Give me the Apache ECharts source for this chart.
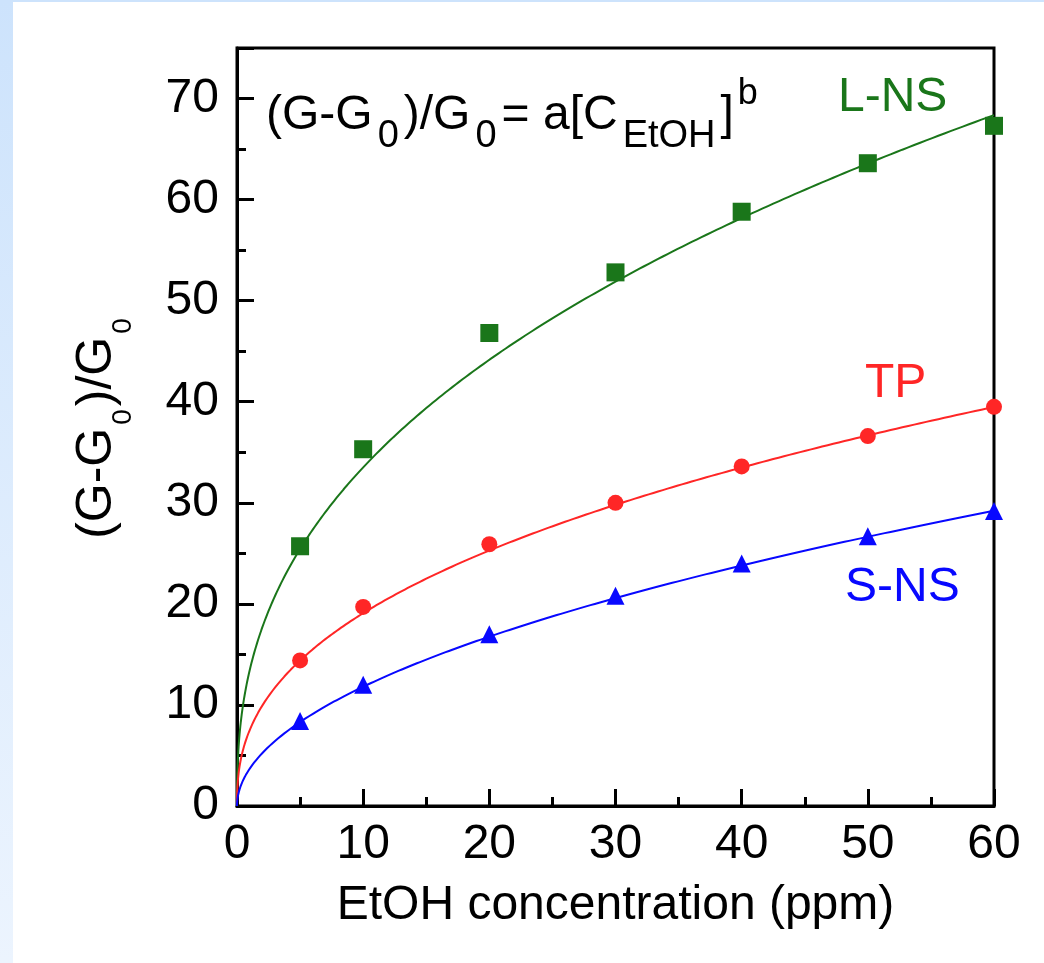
<!DOCTYPE html>
<html>
<head>
<meta charset="utf-8">
<script src="https://cdn.jsdelivr.net/npm/echarts@6/dist/echarts.min.js"></script>
<style>
  html, body { margin: 0; padding: 0; background: #ffffff; }
  #chart { width: 1044px; height: 963px; }
</style>
</head>
<body>
<div id="chart"></div>
<script>
// EtOH concentrations (ppm) at which the response was measured
const concentrations = [5, 10, 20, 30, 40, 50, 60];

// Relative conductance change (G-G0)/G0 for each sensor
const responseLNS = [25.7, 35.3, 46.8, 52.8, 58.8, 63.6, 67.3];
const responseTP  = [14.4, 19.7, 25.9, 30.0, 33.6, 36.6, 39.5];
const responseSNS = [8.4, 12.0, 17.0, 20.8, 24.0, 26.7, 29.2];

// Power-law fit (G-G0)/G0 = a[C_EtOH]^b, parameters per sensor
const fitA = { lns: 13.4, tp: 7.49, sns: 3.68 };
const fitB = { lns: 0.398, tp: 0.406, sns: 0.506 };

// Axis tick labels
const xTicks = [0, 10, 20, 30, 40, 50, 60];
const yTicks = [0, 10, 20, 30, 40, 50, 60, 70];

const GREEN = '#1a761a';
const RED = '#ff2626';
const BLUE = '#0808ff';
const FONT = '"Liberation Sans", Arial, sans-serif';
const FS = 48;

function points(values) {
  return concentrations.map((c, i) => [c, values[i]]);
}

// Fit curve sampled densely, with more samples near zero where it bends sharply
function fitCurve(a, b) {
  const out = [];
  const n = 240;
  const xMax = xTicks[xTicks.length - 1];
  for (let i = 0; i <= n; i++) {
    const x = xMax * Math.pow(i / n, 2);
    out.push([x, x === 0 ? 0 : a * Math.pow(x, b)]);
  }
  return out;
}

function curveSeries(name, data, color) {
  return {
    name: name, type: 'line', data: data, showSymbol: false, smooth: false,
    lineStyle: { color: color, width: 2 }, z: 2, silent: true
  };
}

function pointSeries(name, data, color, symbol, size) {
  return {
    name: name, type: 'scatter', data: data, symbol: symbol, symbolSize: size,
    itemStyle: { color: color, opacity: 1 }, z: 3
  };
}

const chart = echarts.init(document.getElementById('chart'), null, { renderer: 'canvas' });

chart.setOption({
  animation: false,
  backgroundColor: '#ffffff',
  textStyle: { fontFamily: FONT },
  grid: {
    left: 237, right: 50, top: 48, bottom: 157,
    show: true, borderColor: '#000', borderWidth: 3, backgroundColor: 'transparent'
  },
  xAxis: {
    type: 'value', min: xTicks[0], max: xTicks[xTicks.length - 1], interval: 10,
    name: 'EtOH concentration (ppm)', nameLocation: 'middle', nameGap: 76,
    nameTextStyle: { color: '#000', fontSize: FS, fontFamily: FONT },
    axisLine: { show: true, lineStyle: { color: '#000', width: 3 } },
    axisTick: { show: true, inside: true, length: 17, lineStyle: { color: '#000', width: 3 } },
    minorTick: { show: true, splitNumber: 2, length: 9, lineStyle: { color: '#000', width: 3 } },
    splitLine: { show: false },
    axisLabel: { color: '#000', fontSize: FS, margin: 15, fontFamily: FONT }
  },
  yAxis: {
    type: 'value', min: yTicks[0], max: 75, interval: 10,
    name: '{m|(G-G}{s|0}{m|)/G}{s|0}', nameLocation: 'middle', nameGap: 100, nameRotate: 90,
    nameTextStyle: {
      color: '#000', fontFamily: FONT,
      rich: {
        m: { fontSize: 50, lineHeight: 80, fontFamily: FONT, color: '#000' },
        s: { fontSize: 28, lineHeight: 10, verticalAlign: 'bottom', padding: [0, 3, 0, 3], fontFamily: FONT, color: '#000' }
      }
    },
    axisLine: { show: true, lineStyle: { color: '#000', width: 3 } },
    axisTick: { show: true, inside: true, length: 17, lineStyle: { color: '#000', width: 3 } },
    minorTick: { show: true, splitNumber: 2, length: 9, lineStyle: { color: '#000', width: 3 } },
    splitLine: { show: false },
    axisLabel: {
      color: '#000', fontSize: FS, margin: 18, fontFamily: FONT,
      formatter: v => (yTicks.indexOf(v) >= 0 ? String(v) : '')
    }
  },
  graphic: [
    // light blue page edges
    {
      type: 'rect', left: 0, top: 0, z: -10,
      shape: { width: 13, height: 963 },
      style: {
        fill: new echarts.graphic.LinearGradient(0, 0, 0, 1, [
          { offset: 0, color: '#cde3fc' }, { offset: 1, color: '#ecf4fe' }
        ])
      }
    },
    {
      type: 'rect', left: 0, top: 0, z: -10,
      shape: { width: 1044, height: 2 },
      style: { fill: '#cde3fc' }
    },
    // fit equation
    {
      type: 'text', left: 266, top: 76, z: 10,
      style: {
        text: '{m|(G-G}{s|0}{m|)/G}{s|0}{m|= a[C}{s|EtOH}{m|]}{p|b}',
        fill: '#000', font: FS + 'px ' + FONT,
        rich: {
          m: { fontSize: FS, lineHeight: 80, fontFamily: FONT, fill: '#000' },
          s: { fontSize: 38, lineHeight: 10, verticalAlign: 'bottom', padding: [0, 5, 0, 5], fontFamily: FONT, fill: '#000' },
          p: { fontSize: 36, lineHeight: 2, verticalAlign: 'top', padding: [0, 0, 0, 4], fontFamily: FONT, fill: '#000' }
        }
      }
    },
    // sensor names
    {
      type: 'text', left: 838, top: 74, z: 10,
      style: { text: 'L-NS', fill: GREEN, font: FS + 'px ' + FONT }
    },
    {
      type: 'text', left: 865, top: 360, z: 10,
      style: { text: 'TP', fill: RED, font: FS + 'px ' + FONT }
    },
    {
      type: 'text', left: 845, top: 564, z: 10,
      style: { text: 'S-NS', fill: BLUE, font: FS + 'px ' + FONT }
    }
  ],
  series: [
    curveSeries('L-NS fit', fitCurve(fitA.lns, fitB.lns), GREEN),
    curveSeries('TP fit', fitCurve(fitA.tp, fitB.tp), RED),
    curveSeries('S-NS fit', fitCurve(fitA.sns, fitB.sns), BLUE),
    pointSeries('L-NS', points(responseLNS), GREEN, 'rect', 18),
    pointSeries('TP', points(responseTP), RED, 'circle', 16),
    pointSeries('S-NS', points(responseSNS), BLUE, 'triangle', 18)
  ]
});
</script>
</body>
</html>
